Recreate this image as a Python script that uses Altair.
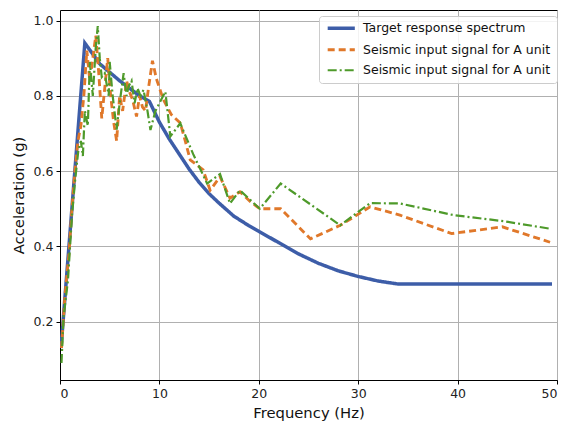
import altair as alt
import pandas as pd

# Target response spectrum
freq_target = [0.1, 2.5, 4.0, 6.0, 8.0, 9.0, 10.0, 11.0, 12.0, 13.0, 14.0, 15.0, 16.0,
               17.5, 19.0, 20.0, 22.0, 24.0, 26.0, 28.0, 30.0, 32.0, 34.0, 49.5]
acc_target = [0.13, 0.94, 0.885, 0.84, 0.80, 0.785, 0.73, 0.685, 0.645, 0.605, 0.57, 0.54, 0.515,
              0.48, 0.455, 0.44, 0.41, 0.38, 0.355, 0.335, 0.32, 0.308, 0.30, 0.30]

# Seismic input signal (orange, dashed)
freq_a1 = [0.15, 0.5, 0.9, 1.2, 1.5, 1.8, 2.1, 2.4, 2.7, 3.0, 3.3, 3.6, 3.9, 4.2, 4.5, 4.8,
           5.1, 5.4, 5.7, 6.0, 6.3, 6.7, 7.0, 7.3, 7.7, 8.0, 8.3, 8.6, 8.9, 9.3, 9.7, 10.4,
           11.2, 12.1, 12.6, 13.1, 14.4, 15.1, 16.1, 17.1, 18.1, 19.1, 20.1, 22.2, 25.2,
           28.2, 31.2, 34.2, 39.4, 44.5, 49.3]
acc_a1 = [0.13, 0.27, 0.38, 0.50, 0.60, 0.68, 0.72, 0.80, 0.92, 0.84, 0.90, 0.96, 0.86, 0.74,
          0.82, 0.90, 0.80, 0.73, 0.68, 0.80, 0.76, 0.84, 0.81, 0.79, 0.745, 0.80, 0.77, 0.76,
          0.82, 0.893, 0.845, 0.79, 0.75, 0.728, 0.68, 0.63, 0.603, 0.549, 0.585, 0.528,
          0.545, 0.52, 0.50, 0.50, 0.42, 0.456, 0.505, 0.483, 0.434, 0.452, 0.411]

# Seismic input signal (green, dash-dot)
freq_a2 = [0.15, 0.35, 0.8, 1.2, 1.5, 1.85, 2.1, 2.3, 2.5, 2.8, 3.0, 3.3, 3.6, 3.8, 4.0, 4.2,
           4.5, 4.9, 5.0, 5.3, 5.7, 6.0, 6.4, 6.7, 6.9, 7.2, 7.5, 7.8, 8.1, 8.4, 8.8, 9.1,
           9.6, 10.6, 11.1, 12.1, 13.4, 14.8, 16.1, 17.1, 18.1, 20.1, 22.2, 28.2, 31.2,
           34.2, 39.6, 44.6, 49.3]
acc_a2 = [0.09, 0.21, 0.31, 0.48, 0.57, 0.656, 0.68, 0.64, 0.76, 0.72, 0.89, 0.80, 0.93, 0.985,
          0.90, 0.85, 0.86, 0.80, 0.89, 0.80, 0.71, 0.78, 0.86, 0.80, 0.825, 0.84, 0.78, 0.82,
          0.80, 0.816, 0.76, 0.709, 0.76, 0.811, 0.692, 0.727, 0.645, 0.567, 0.592, 0.514,
          0.549, 0.50, 0.567, 0.456, 0.515, 0.514, 0.483, 0.467, 0.447]

series_keys = ["a_T", "b_A1", "c_A2"]
series_labels = ["Target response spectrum",
                 "Seismic input signal for A unit",
                 "Seismic input signal for A unit"]
colors = ["#3d5da8", "#e0782a", "#4e9a2a"]

rows = []
for k, fs, vs in zip(series_keys, [freq_target, freq_a1, freq_a2], [acc_target, acc_a1, acc_a2]):
    for f, v in zip(fs, vs):
        rows.append({"series": k, "freq": f, "acc": v})
df = pd.DataFrame(rows)

label_expr = ("datum.value == 'a_T' ? '%s' : '%s'" % (series_labels[0], series_labels[1]))

legend = alt.Legend(
    title=None, orient="none", legendX=259, legendY=6, labelExpr=label_expr, labelLimit=400,
    symbolType="M-4,0L4,0", symbolSize=46, symbolOffset=10,
    labelFontSize=12.5, labelFont="DejaVu Sans",
    labelColor="#111", labelOffset=15.5, rowPadding=7.5, padding=6,
    strokeColor="#cccccc", fillColor="rgba(255,255,255,0.85)", cornerRadius=3,
)

chart = alt.Chart(df).mark_line(clip=True).encode(
    x=alt.X("freq:Q", scale=alt.Scale(domain=[0, 50], nice=False, zero=False),
            axis=alt.Axis(title="Frequency (Hz)", values=[0, 10, 20, 30, 40, 50], format="d")),
    y=alt.Y("acc:Q", scale=alt.Scale(domain=[0.045, 1.028], nice=False, zero=False),
            axis=alt.Axis(title="Acceleration (g)", values=[0.2, 0.4, 0.6, 0.8, 1.0], format=".1f")),
    color=alt.Color("series:N", scale=alt.Scale(domain=series_keys, range=colors), legend=legend),
    strokeDash=alt.StrokeDash("series:N", scale=alt.Scale(domain=series_keys,
                              range=[[1, 0], [7, 4], [9, 3, 2, 3]]), legend=legend),
    strokeWidth=alt.StrokeWidth("series:N", scale=alt.Scale(domain=series_keys,
                                range=[3.5, 2.2, 2.2]), legend=legend),
).properties(
    width=497, height=370,
    autosize=alt.AutoSizeParams(type="none"),
    padding={"left": 60, "top": 10, "right": 11, "bottom": 46},
    background="white",
).configure_view(
    stroke="black", strokeWidth=1
).configure_axis(
    labelFont="DejaVu Sans", titleFont="DejaVu Sans", labelFontSize=12.5, titleFontSize=14.8,
    titleFontWeight="normal", labelColor="#222", titleColor="#111",
    gridColor="#b0b0b0", gridWidth=1, domainColor="black", tickColor="black",
    tickSize=4, labelPadding=3,
).configure_axisY(titlePadding=7).configure_axisX(titlePadding=6)

chart.save("out.html", embed_options={"renderer": "svg", "actions": False})
